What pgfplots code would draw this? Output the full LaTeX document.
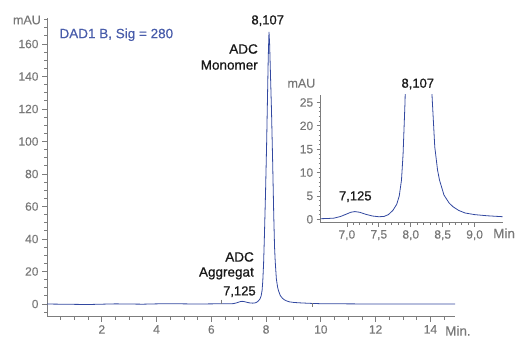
\documentclass[border=0pt]{standalone}
\usepackage{fontspec}
\setmainfont{Liberation Sans}
\newfontfamily\annfont[FakeBold=0.8]{Liberation Sans}
\newfontfamily\tickfont[FakeBold=0.3]{Liberation Sans}
\usepackage{pgfplots}
\usepackage{pgfplotstable}
\pgfplotsset{compat=1.18}
\definecolor{tracecol}{RGB}{50,72,160}
\definecolor{axisgray}{RGB}{125,125,125}
\definecolor{labgray}{RGB}{120,120,120}
\definecolor{txtblue}{RGB}{72,92,170}
\definecolor{txtdark}{RGB}{25,25,25}
\pgfplotstableread{
x y
0.00 0.0
0.5 -0.1
1.0 -0.2
1.5 -0.3
2.0 -0.1
2.5 0.1
3.0 0.0
3.5 -0.1
4.0 0.1
4.5 0.2
5.0 0.1
5.5 0.0
6.0 0.1
6.4 0.15
6.6 0.13
6.7 0.17
6.8 0.25
6.9 0.6
7.0 1.15
7.06 1.5
7.125 1.65
7.2 1.5
7.3 1.05
7.4 0.7
7.5 0.55
7.58 0.6
7.65 1.0
7.72 1.9
7.78 3.2
7.82 5.0
7.855 8.4
7.88 14
7.91 25
7.94 42
7.98 68
8.02 98
8.05 125
8.08 152
8.107 167.5
8.13 160
8.16 142
8.20 118
8.24 88
8.28 55
8.31 35
8.335 26
8.376 15.5
8.42 10.5
8.45 8.4
8.52 5.2
8.60 3.5
8.66 2.7
8.75 1.9
8.85 1.35
9.0 1.0
9.2 0.75
9.44 0.55
9.7 0.35
10.0 0.2
11 0.1
12 0.0
13 0.0
14 0.05
14.9 0.05
}\chrom
\begin{document}
\begin{tikzpicture}[x=1pt,y=1pt]
\useasboundingbox (0,0) rectangle (519,337);
\begin{axis}[
  at={(47pt,20.3pt)}, anchor=south west, scale only axis,
  width=408pt, height=298.7pt,
  xmin=0, xmax=14.9, ymin=-7.8, ymax=176,
  axis lines*=left,
  axis line style={axisgray, line width=0.8pt},
  tick align=outside, major tick length=5pt, minor tick length=3pt,
  every tick/.style={axisgray, line width=0.8pt},
  xtick={2,4,...,14}, minor xtick={0.5,1,...,14.5},
  ytick={0,20,...,160}, minor ytick={-5,5,10,...,175},
  ticklabel style={font=\tickfont\fontsize{12}{14}\selectfont, text=labgray},
  /pgf/number format/assume math mode=true,
]
\addplot[tracecol, line width=0.8pt] table[x=x,y=y] {\chrom};
\addplot[only marks, mark=|, mark size=2pt, axisgray, mark options={line width=0.6pt}] coordinates {(6.38,1.5) (9.70,-0.6)};
\end{axis}
\begin{axis}[
  at={(320.7pt,114.3pt)}, anchor=south west, scale only axis,
  width=182pt, height=127.7pt,
  xmin=6.59, xmax=9.44, ymin=-0.73, ymax=26.6,
  axis lines*=left,
  axis line style={axisgray, line width=0.8pt},
  tick align=outside, major tick length=4pt, minor tick length=2pt,
  every tick/.style={axisgray, line width=0.7pt},
  xtick={7,7.5,...,9}, minor x tick num=4,
  ytick={0,5,...,25}, minor y tick num=4,
  ticklabel style={font=\tickfont\fontsize{12}{14}\selectfont, text=labgray},
  xticklabel style={/pgf/number format/.cd, use comma, fixed, fixed zerofill, precision=1},
  /pgf/number format/assume math mode=true,
]
\addplot[tracecol, line width=0.8pt] table[x=x,y=y] {\chrom};
\end{axis}
% texts
\node[anchor=east, inner sep=0, text=labgray, font=\tickfont\fontsize{12.5}{14}\selectfont] at (41,317) {mAU};
\node[anchor=east, inner sep=0, text=labgray, font=\tickfont\fontsize{12.5}{14}\selectfont] at (315.5,253.7) {mAU};
\node[anchor=west, inner sep=0, text=labgray, font=\tickfont\fontsize{13.5}{15}\selectfont] at (445,6.3) {Min.};
\node[anchor=west, inner sep=0, text=labgray, font=\tickfont\fontsize{13.5}{15}\selectfont] at (493,103.7) {Min};
\node[anchor=west, inner sep=0, text=txtblue, font=\tickfont\fontsize{13.5}{15}\selectfont] at (59.3,302.3) {DAD1 B, Sig = 280};
\node[inner sep=0, text=txtdark, font=\annfont\fontsize{13}{15}\selectfont] at (267.7,316.3) {8,107};
\node[anchor=east, align=right, inner sep=0, text=txtdark, font=\annfont\fontsize{13.5}{16}\selectfont] at (258,280) {ADC\\Monomer};
\node[anchor=east, align=right, inner sep=0, text=txtdark, font=\annfont\fontsize{13.5}{15}\selectfont] at (254,71.2) {ADC\\Aggregat};
\node[inner sep=0, text=txtdark, font=\annfont\fontsize{13}{15}\selectfont] at (239.4,45.3) {7,125};
\node[inner sep=0, text=txtdark, font=\annfont\fontsize{13}{15}\selectfont] at (417.8,253) {8,107};
\node[inner sep=0, text=txtdark, font=\annfont\fontsize{13}{15}\selectfont] at (355.3,140.3) {7,125};
\end{tikzpicture}
\end{document}
